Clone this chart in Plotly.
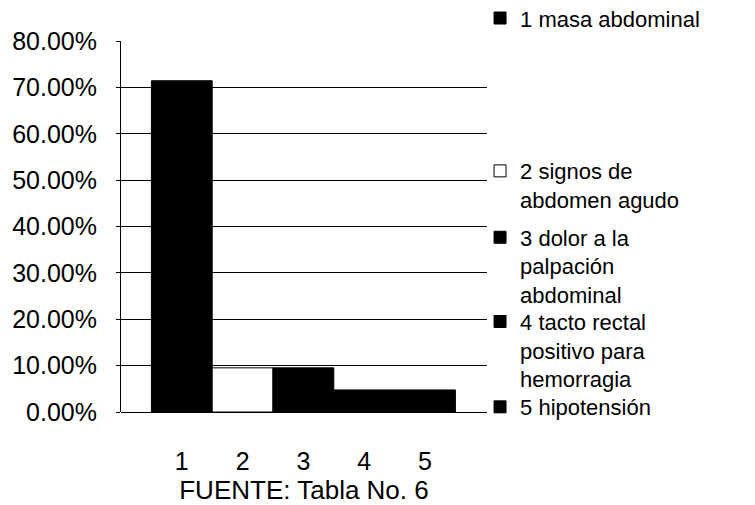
import plotly.graph_objects as go

categories = ["1", "2", "3", "4", "5"]
series_names = [
    "1 masa abdominal",
    "2 signos de<br>abdomen agudo",
    "3 dolor a la<br>palpación<br>abdominal",
    "4 tacto rectal<br>positivo para<br>hemorragia",
    "5 hipotensión",
]
values = [0.7143, 0.0952, 0.0952, 0.0476, 0.0476]
fill_colors = ["black", "white", "black", "black", "black"]
y_ticks = [0, 0.1, 0.2, 0.3, 0.4, 0.5, 0.6, 0.7, 0.8]
legend_y = [1.118, 0.706, 0.527, 0.300, 0.070]

FONT = "Liberation Sans, Arial, sans-serif"
fig = go.Figure()
legend_ids = ["legend", "legend2", "legend3", "legend4", "legend5"]
for i, (cat, name, v, c) in enumerate(zip(categories, series_names, values, fill_colors)):
    fig.add_trace(go.Bar(
        x=[i + 1], y=[v], name=name, width=1,
        marker=dict(color=c, line=dict(color="black", width=1)),
        legend=legend_ids[i],
    ))

layout_legends = {}
for i, lid in enumerate(legend_ids):
    layout_legends[lid] = dict(
        x=0.981, xanchor="left", y=legend_y[i], yanchor="top",
        xref="paper", yref="paper", valign="top",
        font=dict(family=FONT, size=22, color="black"),
        bgcolor="rgba(0,0,0,0)", itemwidth=30, tracegroupgap=0,
    )

fig.update_layout(
    width=755, height=505,
    margin=dict(l=113, r=276, t=33, b=101, autoexpand=False),
    paper_bgcolor="white", plot_bgcolor="white",
    barmode="overlay", showlegend=True,
    font=dict(family=FONT, size=25, color="black"),
    **layout_legends,
)
fig.update_xaxes(
    range=[0.0, 6.02], tickvals=[1, 2, 3, 4, 5], ticktext=categories,
    showgrid=False, zeroline=False, showline=False, ticks="",
    ticklabelstandoff=32,
    tickfont=dict(family=FONT, size=25, color="black"),
    title=dict(text="FUENTE: Tabla No. 6", standoff=0,
               font=dict(family=FONT, size=26, color="black")),
)
fig.update_yaxes(
    range=[0, 0.8], tickvals=y_ticks, tickformat=".2%",
    showgrid=True, gridcolor="black", gridwidth=1,
    zeroline=True, zerolinecolor="black", zerolinewidth=1,
    showline=True, linecolor="black", linewidth=1,
    ticks="outside", ticklen=4, tickcolor="black",
    ticklabelstandoff=14,
    tickfont=dict(family=FONT, size=25, color="black"),
)
fig.write_html("out.html")
